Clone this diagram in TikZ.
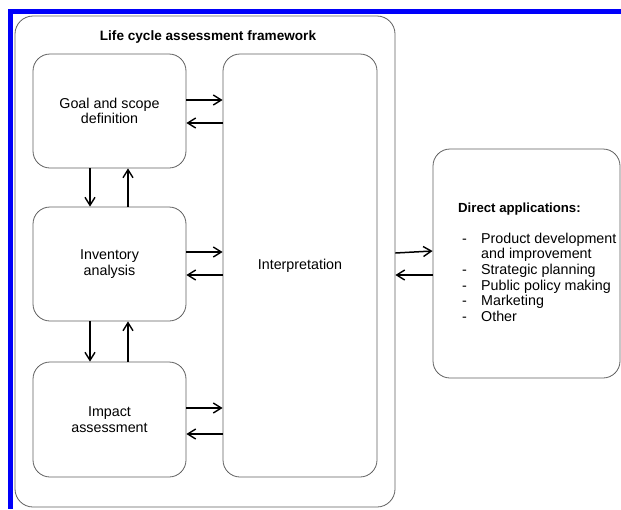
\documentclass[tikz,border=0pt]{standalone}
\usepackage{fontspec}
\setmainfont{Liberation Sans}
\usetikzlibrary{arrows.meta}
\definecolor{frameblue}{RGB}{0,0,250}
\definecolor{boxline}{RGB}{95,95,95}
\tikzset{
  box/.style={draw=boxline, line width=0.8pt, rounded corners=17pt, inner sep=0pt,
    font=\fontsize{14.3}{15.6}\selectfont, align=center},
  arr/.style={draw=black, line width=1.5pt, -{Straight Barb[length=8pt,width=10pt,line width=1.4pt]}},
}
\begin{document}
\begin{tikzpicture}[x=1pt,y=-1pt]
\useasboundingbox (0,0) rectangle (621,509);
% blue frame
\fill[frameblue] (7.5,9) rectangle (621,13.5);
\fill[frameblue] (7.5,9) rectangle (12.8,509);
% outer framework
\node[box, rounded corners=18pt, minimum width=380pt, minimum height=491pt] (outer) at (205,261.5) {};
\node[font=\fontsize{13.6}{15}\selectfont\bfseries, anchor=base] (title) at (208,40) {Life cycle assessment framework};
% boxes
\node[box, minimum width=153pt, minimum height=114pt] (goal) at (109.5,111) {Goal and scope\\definition};
\node[box, minimum width=153pt, minimum height=114pt] (inv) at (109.5,264) {Inventory\\analysis};
\node[box, minimum width=153pt, minimum height=115pt] (imp) at (109.5,419.5) {Impact\\assessment};
\node[box, minimum width=154pt, minimum height=423pt] (interp) at (300,265.5) {Interpretation};
\node[box, minimum width=187pt, minimum height=229pt] (apps) at (526.5,263.5) {};
\node[anchor=base west, inner sep=0pt, font=\fontsize{14.3}{15.6}\selectfont] (appstext) at (458,212) {%
  \begin{tabular}[t]{@{}p{23pt}@{}l@{}}
  \multicolumn{2}{@{}l@{}}{\fontsize{13.2}{15.6}\selectfont\bfseries Direct applications:}\\
  \\
  \hspace{4pt}- & Product development\\
   & and improvement\\
  \hspace{4pt}- & Strategic planning\\
  \hspace{4pt}- & Public policy making\\
  \hspace{4pt}- & Marketing\\
  \hspace{4pt}- & Other
  \end{tabular}};
% horizontal arrows
\draw[arr] (goal.east |- 0,100) -- (interp.west |- 0,100);
\draw[arr] (interp.west |- 0,123) -- (goal.east |- 0,123);
\draw[arr] (inv.east |- 0,252) -- (interp.west |- 0,252);
\draw[arr] (interp.west |- 0,275) -- (inv.east |- 0,275);
\draw[arr] (imp.east |- 0,408) -- (interp.west |- 0,408);
\draw[arr] (interp.west |- 0,434) -- (imp.east |- 0,434);
% vertical arrows
\draw[arr] (goal.south -| 90,0) -- (inv.north -| 90,0);
\draw[arr] (inv.north -| 128,0) -- (goal.south -| 128,0);
\draw[arr] (inv.south -| 90,0) -- (imp.north -| 90,0);
\draw[arr] (imp.north -| 128,0) -- (inv.south -| 128,0);
% applications arrows
\draw[arr] (outer.east |- 0,253) -- (apps.west |- 0,251);
\draw[arr] (apps.west |- 0,275) -- (outer.east |- 0,275);
\end{tikzpicture}
\end{document}
